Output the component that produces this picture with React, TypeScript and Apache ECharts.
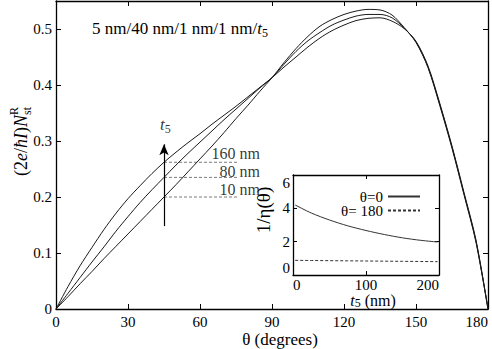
import React, { useEffect, useRef } from "react";
import * as echarts from "echarts";

// main plot: theta (degrees)
const THETA = [0, 5, 10, 15, 20, 25, 30, 35, 40, 45, 50, 55, 60, 65, 70, 75, 80, 85, 90, 95, 100, 105, 110, 115, 120, 125, 130, 135, 140, 145, 150, 155, 160, 165, 170, 175, 180];
// (2e/ħI) N_st^R for t5 = 160 nm, 80 nm, 10 nm
const NST_160 = [0, 0.04, 0.077, 0.11, 0.142, 0.171, 0.197, 0.22, 0.242, 0.262, 0.28, 0.297, 0.313, 0.33, 0.346, 0.362, 0.379, 0.396, 0.413, 0.432, 0.45, 0.468, 0.484, 0.497, 0.507, 0.515, 0.519, 0.52, 0.514, 0.501, 0.478, 0.434, 0.366, 0.291, 0.208, 0.123, 0];
const NST_80 = [0, 0.028, 0.056, 0.084, 0.111, 0.139, 0.165, 0.19, 0.213, 0.235, 0.257, 0.278, 0.298, 0.318, 0.338, 0.357, 0.376, 0.395, 0.413, 0.437, 0.46, 0.479, 0.494, 0.507, 0.516, 0.523, 0.526, 0.526, 0.52, 0.502, 0.477, 0.432, 0.364, 0.289, 0.206, 0.121, 0];
const NST_10 = [0, 0.022, 0.045, 0.067, 0.09, 0.112, 0.134, 0.156, 0.178, 0.2, 0.222, 0.245, 0.268, 0.291, 0.315, 0.34, 0.364, 0.389, 0.413, 0.44, 0.465, 0.487, 0.505, 0.517, 0.526, 0.532, 0.535, 0.534, 0.525, 0.503, 0.476, 0.431, 0.362, 0.287, 0.204, 0.119, 0];

// markers at theta = 45
const MARK_THETA = 45;
const MARK_END_THETA = 75.5;
const MARK_LABEL_THETA = 85;
const MARK_LABELS = ["160 nm", "80 nm", "10 nm"];
const MARK_VALUES = [0.262, 0.235, 0.2];
const MARK_LABEL_SHIFT = [-8.5, -5.5, -8];
const ARROW_FROM = 0.148;
const ARROW_TO = 0.294;
const T5_LABEL_POS = [45.6, 0.3295];

// inset: t5 (nm) vs 1/eta(theta)
const T5 = [3, 25, 50, 75, 100, 125, 150, 175, 198];
const ETA_0 = [4.2, 3.72, 3.3, 2.95, 2.67, 2.43, 2.23, 2.08, 1.98];
const ETA_180 = [0.88, 0.87, 0.86, 0.85, 0.84, 0.83, 0.82, 0.81, 0.8];
const LEGEND_NAMES = ["θ=0", "θ= 180"];

const FONT = "Liberation Serif";

const pairs = (xs: number[], ys: number[]) => xs.map((x, i) => [x, ys[i]]);

export default function App() {
  const ref = useRef<HTMLDivElement>(null);
  useEffect(() => {
    const chart = echarts.init(ref.current!, null, { renderer: "svg" });

    const axLine = { show: true, onZero: false, lineStyle: { color: "#000", width: 1.3 } };
    const tick = { show: true, inside: true, length: 5, lineStyle: { color: "#000", width: 1 } };
    const lbl = { color: "#000", fontFamily: FONT, fontSize: 15 };

    const subRich = {
      i: { fontStyle: "italic", fontFamily: FONT, fontSize: 17, lineHeight: 22, color: "#000" },
      s: { fontFamily: FONT, fontSize: 12, lineHeight: 12, verticalAlign: "bottom", color: "#000" },
      p: { fontFamily: FONT, fontSize: 17, lineHeight: 22, color: "#000" },
    };
    const yTitleRich = {
      i: { fontStyle: "italic", fontFamily: FONT, fontSize: 18, lineHeight: 24, color: "#000" },
      s: { fontFamily: FONT, fontSize: 12, lineHeight: 12, verticalAlign: "bottom", color: "#000" },
      p: { fontFamily: FONT, fontSize: 18, lineHeight: 24, color: "#000" },
    };

    const mainLine = (name: string, ys: number[]) => ({
      name,
      type: "line",
      xAxisIndex: 0,
      yAxisIndex: 0,
      data: pairs(THETA, ys),
      symbol: "none",
      smooth: 0.3,
      lineStyle: { color: "#1a1a1a", width: 1 },
      z: 3,
    });

    const markSeries = MARK_VALUES.map((v, i) => ({
      name: "mark " + MARK_LABELS[i],
      type: "line",
      xAxisIndex: 0,
      yAxisIndex: 0,
      data: [[MARK_THETA, v], [MARK_END_THETA, v]],
      symbol: "none",
      lineStyle: { color: "#7a7a7a", width: 1, type: [3, 2] },
      z: 2,
      ...(i === 2
        ? {
            markLine: {
              silent: true,
              symbol: ["none", "arrow"],
              symbolSize: [7, 11],
              label: { show: false },
              lineStyle: { color: "#000", width: 1.2, type: "solid" },
              data: [[{ coord: [MARK_THETA, ARROW_FROM] }, { coord: [MARK_THETA, ARROW_TO] }]],
            },
          }
        : {}),
    }));

    const option = {
      animation: false,
      backgroundColor: "#fff",
      grid: [
        { left: 56, right: 4, top: 1, bottom: 40, show: false },
        { left: 293, top: 175, width: 146, height: 100, show: true, backgroundColor: "#fff", borderWidth: 0 },
      ],
      legend: {
        data: LEGEND_NAMES,
        orient: "vertical",
        align: "right",
        right: 66,
        top: 184,
        itemWidth: 32,
        itemHeight: 10,
        itemGap: -1,
        selectedMode: false,
        itemStyle: { color: "transparent", borderColor: "transparent", borderWidth: 0 },
        textStyle: { fontFamily: FONT, fontSize: 15, color: "#000", lineHeight: 13 },
      },
      xAxis: [
        {
          gridIndex: 0, type: "value", min: 0, max: 180, interval: 30, position: "bottom",
          axisLine: axLine, axisTick: tick, splitLine: { show: false },
          axisLabel: { ...lbl, margin: 5, alignMaxLabel: "right" },
        },
        {
          gridIndex: 0, type: "value", min: 0, max: 180, interval: 30, position: "top",
          axisLine: axLine, axisTick: tick, splitLine: { show: false }, axisLabel: { show: false },
        },
        {
          gridIndex: 1, type: "value", min: 0, max: 200, interval: 100, position: "bottom",
          axisLine: axLine, axisTick: { ...tick, length: 4 }, splitLine: { show: false },
          axisLabel: { ...lbl, margin: 2, alignMinLabel: "left", alignMaxLabel: "right" },
        },
        {
          gridIndex: 1, type: "value", min: 0, max: 200, interval: 100, position: "top",
          axisLine: axLine, axisTick: { ...tick, length: 4 }, splitLine: { show: false }, axisLabel: { show: false },
        },
      ],
      yAxis: [
        {
          gridIndex: 0, type: "value", min: 0, max: 0.55, interval: 0.1, position: "left",
          axisLine: axLine, axisTick: tick, splitLine: { show: false },
          axisLabel: { ...lbl, margin: 4, showMaxLabel: false, formatter: (v: number) => (v === 0 ? "0" : v.toFixed(1)) },
        },
        {
          gridIndex: 0, type: "value", min: 0, max: 0.55, interval: 0.1, position: "right",
          axisLine: axLine, axisTick: tick, splitLine: { show: false }, axisLabel: { show: false },
        },
        {
          gridIndex: 1, type: "value", min: 0, max: 6, interval: 2, position: "left",
          axisLine: axLine, axisTick: { ...tick, length: 4 }, splitLine: { show: false },
          axisLabel: { ...lbl, margin: 3, verticalAlignMinLabel: "bottom", verticalAlignMaxLabel: "top" },
        },
        {
          gridIndex: 1, type: "value", min: 0, max: 6, interval: 2, position: "right",
          axisLine: axLine, axisTick: { ...tick, length: 4 }, splitLine: { show: false }, axisLabel: { show: false },
        },
      ],
      series: [
        mainLine("t5 = 160 nm", NST_160),
        mainLine("t5 = 80 nm", NST_80),
        mainLine("t5 = 10 nm", NST_10),
        ...markSeries,
        {
          name: "mark labels",
          type: "scatter",
          xAxisIndex: 0,
          yAxisIndex: 0,
          symbolSize: 0,
          data: MARK_VALUES.map((v, i) => ({
            value: [MARK_LABEL_THETA, v],
            name: MARK_LABELS[i],
            label: { offset: [0, MARK_LABEL_SHIFT[i]] },
          })),
          label: {
            show: true,
            position: "left",
            distance: 0,
            formatter: (p: any) => p.name,
            fontFamily: FONT,
            fontSize: 16,
            lineHeight: 12,
            color: "#000",
          },
          z: 4,
        },
        {
          name: "t5 arrow label",
          type: "scatter",
          xAxisIndex: 0,
          yAxisIndex: 0,
          symbolSize: 0,
          data: [T5_LABEL_POS],
          label: {
            show: true,
            position: "inside",
            formatter: "{i|t}{s|5}",
            rich: subRich,
          },
          z: 4,
        },
        {
          name: LEGEND_NAMES[0],
          type: "line",
          xAxisIndex: 2,
          yAxisIndex: 2,
          data: pairs(T5, ETA_0),
          symbol: "none",
          smooth: 0.3,
          lineStyle: { color: "#333", width: 1 },
          itemStyle: { color: "#333" },
          z: 6,
        },
        {
          name: LEGEND_NAMES[1],
          type: "line",
          xAxisIndex: 2,
          yAxisIndex: 2,
          data: pairs(T5, ETA_180),
          symbol: "none",
          lineStyle: { color: "#333", width: 1, type: [3, 2] },
          itemStyle: { color: "#333" },
          z: 6,
        },
      ],
      graphic: [
        {
          type: "text",
          x: 92,
          y: 28,
          style: {
            text: "{p|5 nm/40 nm/1 nm/1 nm/}{i|t}{s|5}",
            rich: subRich,
            align: "left",
            verticalAlign: "middle",
          },
        },
        {
          type: "group",
          x: 21,
          y: 142,
          rotation: Math.PI / 2,
          children: [
            {
              type: "text",
              x: 35,
              y: 0,
              style: {
                text: "{p|(2}{i|e}{p|/}{i|ħI}{p|)}{i|N}{s|st}",
                rich: yTitleRich,
                align: "right",
                verticalAlign: "middle",
              },
            },
            {
              type: "text",
              x: 27,
              y: -7,
              style: {
                text: "R",
                fontFamily: FONT,
                fontSize: 12,
                fill: "#000",
                align: "left",
                verticalAlign: "middle",
              },
            },
          ],
        },
        {
          type: "text",
          x: 280,
          y: 339,
          style: {
            text: "θ (degrees)",
            fontFamily: FONT,
            fontSize: 17,
            fill: "#000",
            align: "center",
            verticalAlign: "middle",
          },
        },
        {
          type: "text",
          x: 263,
          y: 210,
          rotation: Math.PI / 2,
          style: {
            text: "1/η(θ)",
            fontFamily: FONT,
            fontSize: 19,
            fill: "#000",
            align: "center",
            verticalAlign: "middle",
          },
        },
        {
          type: "text",
          x: 373,
          y: 300,
          style: {
            text: "{i|t}{s|5}{p| (nm)}",
            rich: {
              i: { fontStyle: "italic", fontFamily: FONT, fontSize: 16, lineHeight: 18, color: "#000" },
              s: { fontFamily: FONT, fontSize: 12, lineHeight: 11, verticalAlign: "bottom", color: "#000" },
              p: { fontFamily: FONT, fontSize: 16, lineHeight: 18, color: "#000" },
            },
            align: "center",
            verticalAlign: "middle",
          },
        },
      ],
    };

    chart.setOption(option as any);
    return () => chart.dispose();
  }, []);

  return <div ref={ref} style={{ position: "absolute", left: 0, top: 0, width: 492, height: 349 }} />;
}
